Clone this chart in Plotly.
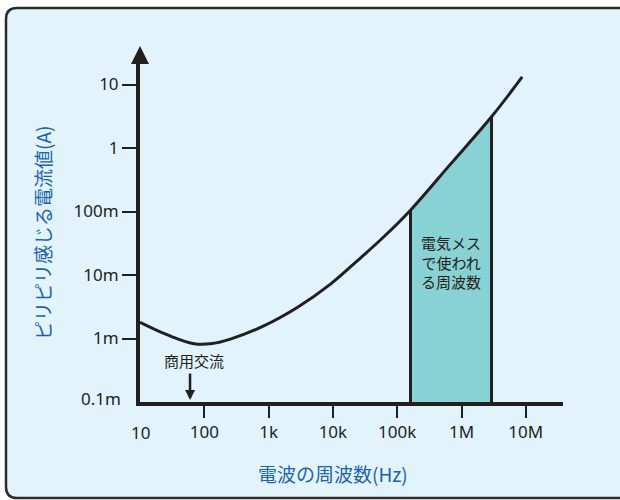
import math
import plotly.graph_objects as go

# ---- data ----
freq_hz = [10, 23.5, 40.1, 73, 132.7, 255, 841, 2790, 9180, 23900, 62000, 161000, 674000, 2930000, 8790000]
current_a = [1.8e-3, 1.2e-3, 0.97e-3, 0.82e-3, 0.834e-3, 0.98e-3, 1.58e-3, 3.08e-3, 7.19e-3,
             16.7e-3, 0.040, 0.105, 0.557, 3.1, 13.2]

band_lo = 161000
band_hi = 2930000
band_label = "電気メス<br>で使われ<br>る周波数"

x_tick_vals = [10, 100, 1e3, 1e4, 1e5, 1e6, 1e7]
x_tick_text = ["10", "100", "1k", "10k", "100k", "1M", "10M"]
y_tick_vals = [1e-4, 1e-3, 1e-2, 1e-1, 1, 10]
y_tick_text = ["0.1m", "1m", "10m", "100m", "1", "10"]

ac_freq = 60
ac_label = "商用交流"
x_title = "電波の周波数(Hz)"
y_title = "ピリピリ感じる電流値(A)"

# ---- style ----
INK = "#231f20"
BLUE = "#1b63ae"
BG = "#e2f3fb"
TEAL = "#88d1d4"
NUM_FONT = "Noto Sans"
JP_FONT = "Noto Sans CJK JP"

W, H = 620, 500
L, R, T, B = 140, 57, 62, 98
PW, PH = W - L - R, H - T - B
DEC_X = 64.3
DEC_Y = 63.5

def px2paper_x(px):
    return (px - L) / PW

def px2paper_y(py):
    return (H - B - py) / PH

fig = go.Figure()

# shaded band
bx = [band_lo] + [f for f in freq_hz if band_lo <= f <= band_hi] + [band_hi]
by = [y_tick_vals[0]] + [c for f, c in zip(freq_hz, current_a) if band_lo <= f <= band_hi] + [y_tick_vals[0]]
fig.add_trace(go.Scatter(x=bx, y=by, mode="lines", fill="toself", fillcolor=TEAL,
                         line=dict(width=0), hoverinfo="skip", showlegend=False))
# band vertical edges
v_lo = current_a[freq_hz.index(band_lo)]
v_hi = current_a[freq_hz.index(band_hi)]
fig.add_trace(go.Scatter(x=[band_lo, band_lo, None, band_hi, band_hi],
                         y=[y_tick_vals[0], v_lo, None, y_tick_vals[0], v_hi],
                         mode="lines", line=dict(color=INK, width=3),
                         hoverinfo="skip", showlegend=False))
# curve
fig.add_trace(go.Scatter(x=freq_hz, y=current_a, mode="lines",
                         line=dict(color=INK, width=3, shape="spline", smoothing=1),
                         showlegend=False))

x_lo = math.log10(x_tick_vals[0])
y_lo = math.log10(y_tick_vals[0])

fig.update_layout(
    width=W, height=H,
    margin=dict(l=L, r=R, t=T, b=B),
    paper_bgcolor="white",
    plot_bgcolor="rgba(0,0,0,0)",
    showlegend=False,
    xaxis=dict(type="log", range=[x_lo, x_lo + PW / DEC_X],
               tickvals=x_tick_vals[1:], ticktext=x_tick_text[1:],
               ticks="outside", ticklen=12, tickwidth=2, tickcolor=INK,
               showline=True, linewidth=4, linecolor=INK,
               showgrid=False, zeroline=False,
               tickfont=dict(family=NUM_FONT, size=17, color=INK)),
    yaxis=dict(type="log", range=[y_lo, y_lo + PH / DEC_Y],
               tickvals=y_tick_vals[1:], ticktext=y_tick_text[1:],
               ticks="outside", ticklen=14, tickwidth=2, tickcolor=INK,
               showline=True, linewidth=4, linecolor=INK,
               showgrid=False, zeroline=False,
               tickfont=dict(family=NUM_FONT, size=17, color=INK)),
)

# background rounded box
x0p, y0p, x1p, y1p, r = 6, 8, 660, 498, 11
def P(px, py):
    return f"{px2paper_x(px):.5f},{px2paper_y(py):.5f}"
path = (f"M {P(x0p + r, y0p)} L {P(x1p, y0p)} L {P(x1p, y1p)} L {P(x0p + r, y1p)} "
        f"Q {P(x0p, y1p)} {P(x0p, y1p - r)} L {P(x0p, y0p + r)} Q {P(x0p, y0p)} {P(x0p + r, y0p)} Z")
fig.add_shape(type="path", path=path, xref="paper", yref="paper", layer="below",
              fillcolor=BG, line=dict(color="#2b2b2b", width=2.5))

annotations = []
# y axis arrowhead
annotations.append(dict(xref="paper", yref="paper", x=0, y=1 + 16 / PH, ax=0, ay=17,
                        axref="pixel", ayref="pixel", text="", showarrow=True,
                        arrowhead=2, arrowwidth=4, arrowsize=0.9, arrowcolor=INK))
# tick labels without tick marks: "10" (x) and "0.1m" (y)
annotations.append(dict(xref="x", yref="paper", x=x_lo, y=0, yshift=-30, text=x_tick_text[0],
                        showarrow=False, xanchor="center", yanchor="middle",
                        font=dict(family=NUM_FONT, size=17, color=INK)))
annotations.append(dict(xref="paper", yref="y", x=0, y=y_lo, xshift=-17, yshift=4,
                        text=y_tick_text[0], showarrow=False, xanchor="right", yanchor="middle",
                        font=dict(family=NUM_FONT, size=17, color=INK)))
# commercial AC: arrow + label
annotations.append(dict(xref="x", yref="y", x=math.log10(ac_freq), y=y_lo, ax=0, ay=-30,
                        text="", showarrow=True, arrowhead=2, arrowwidth=2.5,
                        arrowsize=0.8, arrowcolor=INK, standoff=2))
annotations.append(dict(xref="x", yref="y", x=math.log10(ac_freq), y=y_lo, xshift=4, yshift=42,
                        text=ac_label, showarrow=False, xanchor="center", yanchor="middle",
                        font=dict(family=JP_FONT, size=15, color=INK)))
# band label
annotations.append(dict(xref="x", yref="y",
                        x=(math.log10(band_lo) + math.log10(band_hi)) / 2,
                        y=y_lo + (H - B - 262) / DEC_Y, text=band_label, showarrow=False,
                        xanchor="center", yanchor="middle",
                        font=dict(family=JP_FONT, size=15, color=INK), align="center"))
# axis titles
annotations.append(dict(xref="paper", yref="paper", x=px2paper_x(333), y=px2paper_y(473),
                        text=x_title, showarrow=False, xanchor="center", yanchor="middle",
                        font=dict(family=JP_FONT, size=19, color=BLUE)))
annotations.append(dict(xref="paper", yref="paper", x=px2paper_x(42), y=px2paper_y(233),
                        text=y_title, showarrow=False, textangle=-90,
                        xanchor="center", yanchor="middle",
                        font=dict(family=JP_FONT, size=19, color=BLUE)))
fig.update_layout(annotations=annotations)

fig.write_html("out.html", config={"displayModeBar": False},
               post_script="document.body.style.margin='0';")
